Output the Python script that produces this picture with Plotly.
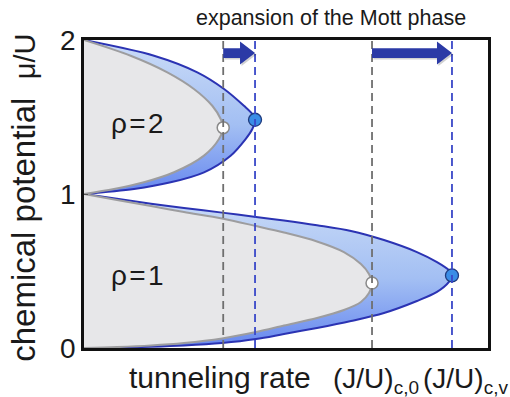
import plotly.graph_objects as go

FONT = "Liberation Sans, Arial, Helvetica, sans-serif"

# Phase boundaries of the Mott lobes: tunneling rate J/U against chemical potential mu/U.
# "_0": homogeneous lattice, "_v": with the additional potential (expanded lobes).
mu1_0 = [1.0, 0.961, 0.922, 0.883, 0.841, 0.792, 0.750, 0.692, 0.623, 0.545, 0.481, 0.422,
         0.357, 0.299, 0.247, 0.195, 0.146, 0.104, 0.062, 0.032, 0.016, 0.006, 0.0]
J1_0 = [0.0, 0.0196, 0.0398, 0.0594, 0.0820, 0.1022, 0.1188, 0.1384, 0.1544, 0.1645, 0.1693, 0.1711,
        0.1693, 0.1645, 0.1544, 0.1384, 0.1188, 0.1022, 0.0820, 0.0594, 0.0398, 0.0196, 0.0]

mu1_v = [1.0, 0.969, 0.937, 0.909, 0.879, 0.851, 0.828, 0.797, 0.760, 0.701, 0.623, 0.558, 0.505, 0.471,
         0.429, 0.364, 0.305, 0.227, 0.175, 0.130, 0.091, 0.058, 0.032, 0.016, 0.008, 0.003, 0.0]
J1_v = [0.0, 0.0196, 0.0398, 0.0594, 0.0820, 0.1022, 0.1188, 0.1384, 0.1586, 0.1782, 0.1978, 0.2097, 0.2168, 0.2186,
        0.2168, 0.2097, 0.1978, 0.1782, 0.1586, 0.1384, 0.1188, 0.1022, 0.0820, 0.0594, 0.0398, 0.0196, 0.0]

mu2_0 = [2.0, 1.898, 1.790, 1.682, 1.573, 1.487, 1.431, 1.357, 1.249, 1.141, 1.076, 1.032, 1.0]
J2_0 = [0.0, 0.0277, 0.0495, 0.0653, 0.0762, 0.0812, 0.0827, 0.0802, 0.0713, 0.0535, 0.0356, 0.0178, 0.0]

mu2_v = [2.0, 1.898, 1.790, 1.682, 1.573, 1.519, 1.482, 1.422, 1.357, 1.249, 1.141, 1.076, 1.032, 1.0]
J2_v = [0.0, 0.0416, 0.0673, 0.0832, 0.0950, 0.1000, 0.1016, 0.1000, 0.0960, 0.0871, 0.0713, 0.0515, 0.0297, 0.0]

# Lobe tips (critical points)
tips_0 = {"J": [0.1711, 0.0827], "mu": [0.422, 1.431]}
tips_v = {"J": [0.2186, 0.1016], "mu": [0.471, 1.482]}

lobe_labels = ["\u03c1\u200a=\u200a1", "\u03c1\u200a=\u200a2"]
label_mu = [0.474, 1.455]
label_J = [0.0150, 0.0150]

y_ticks = [0, 1, 2]
mu_arrow = 1.915

X_RANGE = [0, 0.24]
Y_RANGE = [0, 2]
PLOT_W, PLOT_H = 404, 308  # plot area in px

BLUE_LINE = "#2b33b3"
GREY_LINE = "#9d9d9f"
GREY_FILL = "#e7e7e9"
ARROW = "#2b3aa6"
TEXT = "#1a1a1a"

fig = go.Figure()

# blue (expanded) lobes with vertical colour gradient
for J, mu, lo, hi in [(J1_v, mu1_v, 0.0, 1.0), (J2_v, mu2_v, 1.0, 2.0)]:
    fig.add_trace(go.Scatter(
        x=J, y=mu, mode="lines", fill="toself",
        line=dict(color=BLUE_LINE, width=2, shape="spline", smoothing=0.9),
        fillgradient=dict(type="vertical", start=lo, stop=hi,
                          colorscale=[[0, "#6687ef"], [0.45, "#a3bff3"], [1, "#cbdcf7"]]),
        hoverinfo="skip", showlegend=False))

# grey (homogeneous) lobes on top
for J, mu in [(J1_0, mu1_0), (J2_0, mu2_0)]:
    fig.add_trace(go.Scatter(
        x=J, y=mu, mode="lines", fill="toself", fillcolor=GREY_FILL,
        line=dict(color=GREY_LINE, width=2, shape="spline", smoothing=0.9),
        hoverinfo="skip", showlegend=False))

# vertical dashed markers at the critical tunneling rates
for j in tips_0["J"]:
    fig.add_shape(type="line", x0=j, x1=j, y0=0, y1=1, xref="x", yref="paper",
                  line=dict(color="#6f6f6f", width=1.8, dash="8px,5px"), layer="above")
for j in tips_v["J"]:
    fig.add_shape(type="line", x0=j, x1=j, y0=0, y1=1, xref="x", yref="paper",
                  line=dict(color="#3a48c8", width=1.8, dash="8px,5px"), layer="above")

# block arrows from the old to the new critical point
jpx = (X_RANGE[1] - X_RANGE[0]) / PLOT_W
mpx = (Y_RANGE[1] - Y_RANGE[0]) / PLOT_H
head_len, head_half, shaft_half = 15 * jpx, 11.5 * mpx, 4.8 * mpx


def arrow_path(j0, j1, m, dx=0.0, dy=0.0):
    j0, j1, m = j0 + dx, j1 + dx, m + dy
    jb = j1 - head_len
    return (f"M {j0},{m - shaft_half} L {jb},{m - shaft_half} L {jb},{m - head_half} "
            f"L {j1},{m} L {jb},{m + head_half} L {jb},{m + shaft_half} L {j0},{m + shaft_half} Z")


for j0, jv in zip(tips_0["J"], tips_v["J"]):
    fig.add_shape(type="path", path=arrow_path(j0, jv, mu_arrow, 1.5 * jpx, -1.5 * mpx),
                  xref="x", yref="y", fillcolor="rgba(0,0,0,0.18)", line=dict(width=0), layer="above")
    fig.add_shape(type="path", path=arrow_path(j0, jv, mu_arrow),
                  xref="x", yref="y", fillcolor=ARROW, line=dict(width=0), layer="above")

# tip markers
fig.add_trace(go.Scatter(x=tips_0["J"], y=tips_0["mu"], mode="markers",
                         marker=dict(size=12, color="white", line=dict(color="#8a8a8a", width=1.5)),
                         hoverinfo="skip", showlegend=False))
fig.add_trace(go.Scatter(x=tips_v["J"], y=tips_v["mu"], mode="markers",
                         marker=dict(size=13, color="#3a8de6", line=dict(color="#1f3b7e", width=1.3)),
                         hoverinfo="skip", showlegend=False))

annotations = []
for t, j, m in zip(lobe_labels, label_J, label_mu):
    annotations.append(dict(x=j, y=m, xref="x", yref="y", text=t, showarrow=False,
                            xanchor="left", yanchor="middle",
                            font=dict(family=FONT, size=28, color=TEXT)))

annotations += [
    dict(x=0.611, y=(348 - 18) / 308, xref="paper", yref="paper", text="expansion of the Mott phase",
         xanchor="center", yanchor="middle",
         showarrow=False, font=dict(family=FONT, size=21.5, color=TEXT)),
    dict(x=-0.150, y=0.489, xref="paper", yref="paper",
         text="chemical potential\u00a0\u00a0<span style='font-size:29px'>\u03bc/U</span>", textangle=-90,
         xanchor="center", yanchor="middle",
         showarrow=False, font=dict(family=FONT, size=33, color=TEXT)),
    dict(x=0.337, y=-0.097, xref="paper", yref="paper", text="tunneling rate",
         xanchor="center", yanchor="middle",
         showarrow=False, font=dict(family=FONT, size=30, color=TEXT)),
    dict(x=tips_0["J"][0], y=-0.107, xref="x", yref="paper", xshift=-41,
         text="(J/U)<sub><span style='font-size:19px'>c,0</span></sub>", xanchor="left", yanchor="middle",
         showarrow=False, font=dict(family=FONT, size=28, color=TEXT)),
    dict(x=tips_v["J"][0], y=-0.107, xref="x", yref="paper", xshift=-31,
         text="(J/U)<sub><span style='font-size:19px'>c,v</span></sub>", xanchor="left", yanchor="middle",
         showarrow=False, font=dict(family=FONT, size=28, color=TEXT)),
]

fig.update_layout(
    width=510, height=397,
    margin=dict(l=84, r=22, t=40, b=49),
    paper_bgcolor="white", plot_bgcolor="white",
    annotations=annotations,
    xaxis=dict(range=X_RANGE, showgrid=False, zeroline=False, showticklabels=False,
               ticks="", showline=True, linecolor="#111", linewidth=2.5, mirror=True),
    yaxis=dict(range=Y_RANGE, tickvals=y_ticks, showgrid=False, zeroline=False,
               ticks="inside", ticklen=4, tickcolor="#555",
               tickfont=dict(family=FONT, size=28, color=TEXT),
               showline=True, linecolor="#111", linewidth=2.5, mirror=True),
)

fig.write_html("out.html")
